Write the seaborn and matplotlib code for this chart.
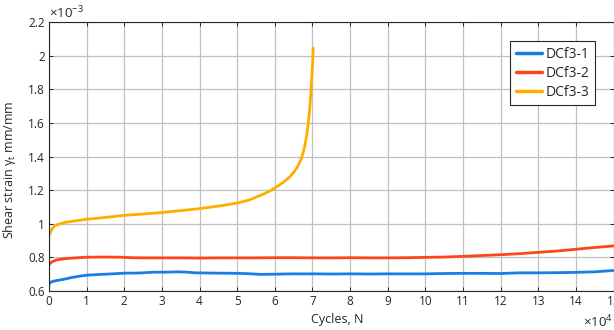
import matplotlib
matplotlib.use("Agg")
import numpy as np
import pandas as pd
import matplotlib.pyplot as plt
import seaborn as sns
from matplotlib.ticker import FuncFormatter

# ---- data: cycles N and shear strain (mm/mm) for each specimen ----
cycles_1 = [0, 300, 1000, 2000, 4000, 6000, 8000, 10000, 13000, 16000, 20000,
            24000, 28000, 31000, 34000, 36000, 39000, 42000, 46000, 50000,
            53000, 56000, 60000, 65000, 70000, 75000, 80000, 85000, 90000,
            95000, 100000, 105000, 110000, 115000, 120000, 125000, 130000,
            135000, 140000, 145000, 150000]
strain_1 = [0.640, 0.650, 0.657, 0.662, 0.670, 0.680, 0.688, 0.694, 0.698,
            0.701, 0.706, 0.707, 0.712, 0.712, 0.714, 0.713, 0.708, 0.707,
            0.706, 0.705, 0.703, 0.699, 0.700, 0.702, 0.702, 0.701, 0.702,
            0.701, 0.702, 0.702, 0.702, 0.704, 0.705, 0.705, 0.704, 0.708,
            0.708, 0.709, 0.711, 0.714, 0.722]

cycles_2 = [0, 300, 1000, 2000, 4000, 7000, 10000, 15000, 19000, 22000, 26000,
            30000, 35000, 40000, 45000, 50000, 55000, 60000, 65000, 70000,
            75000, 80000, 85000, 90000, 95000, 100000, 105000, 110000, 115000,
            120000, 125000, 130000, 135000, 140000, 145000, 150000]
strain_2 = [0.755, 0.765, 0.776, 0.785, 0.792, 0.797, 0.801, 0.802, 0.801,
            0.798, 0.797, 0.797, 0.797, 0.796, 0.797, 0.797, 0.797, 0.798,
            0.798, 0.797, 0.797, 0.798, 0.797, 0.797, 0.798, 0.800, 0.802,
            0.806, 0.811, 0.816, 0.822, 0.830, 0.838, 0.848, 0.859, 0.868]

cycles_3 = [0, 500, 1000, 1600, 3000, 4700, 8000, 10000, 13000, 16000, 20000,
            25000, 30000, 35000, 40000, 45000, 50000, 53000, 55000, 57000,
            58500, 60000, 61000, 62000, 63000, 64000, 65000, 66000, 67000,
            67600, 68000, 68500, 69000, 69400, 69700, 70000, 70200]
strain_3 = [0.930, 0.955, 0.975, 0.990, 1.000, 1.010, 1.020, 1.027, 1.033,
            1.040, 1.050, 1.058, 1.067, 1.078, 1.090, 1.105, 1.123, 1.140,
            1.158, 1.177, 1.193, 1.212, 1.227, 1.243, 1.260, 1.280, 1.305,
            1.338, 1.385, 1.430, 1.468, 1.530, 1.620, 1.720, 1.830, 1.940,
            2.045]

specimens = ["DCf3-1", "DCf3-2", "DCf3-3"]
colors = ["#1a7de6", "#ff4418", "#ffae00"]

y_ticks = [0.6, 0.8, 1.0, 1.2, 1.4, 1.6, 1.8, 2.0, 2.2]   # ×10^-3
x_ticks = list(range(0, 16))                               # ×10^4

frames = []
for name, xs, ys in zip(specimens, [cycles_1, cycles_2, cycles_3],
                        [strain_1, strain_2, strain_3]):
    frames.append(pd.DataFrame({"cycles": xs,
                                "strain": np.array(ys) * 1e-3,
                                "specimen": name}))
df = pd.concat(frames, ignore_index=True)

# ---- styling ----
sns.set_theme(style="whitegrid")
plt.rcParams["font.family"] = ["Open Sans", "DejaVu Sans"]
plt.rcParams["mathtext.fontset"] = "custom"
plt.rcParams["mathtext.rm"] = "Open Sans"
plt.rcParams["mathtext.it"] = "Open Sans:italic"

W, H = 614, 330
fig = plt.figure(figsize=(W / 100, H / 100), dpi=100)
ax = fig.add_axes([49 / W, 39 / H, 564.6 / W, 269 / H])

sns.lineplot(data=df, x="cycles", y="strain", hue="specimen",
             palette=colors, hue_order=specimens, linewidth=2.0,
             estimator=None, ax=ax)

ax.set_xlim(0, 15e4)
ax.set_ylim(0.6e-3, 2.2e-3)
ax.set_xticks([t * 1e4 for t in x_ticks])
ax.set_yticks([t * 1e-3 for t in y_ticks])
ax.xaxis.set_major_formatter(FuncFormatter(lambda v, p: f"{round(v / 1e4, 3):g}"))
ax.yaxis.set_major_formatter(FuncFormatter(lambda v, p: f"{round(v * 1e3, 3):g}"))

ax.grid(True, color="#c0c0c0", linewidth=0.9)
for s in ax.spines.values():
    s.set_color("#262626")
    s.set_linewidth(0.8)
ax.tick_params(axis="both", which="major", direction="in", length=3,
               width=0.7, color="#262626", labelsize=8.5, labelcolor="#262626",
               bottom=True, left=True, top=True, right=True, pad=3)

ax.set_xlabel("Cycles, N", fontsize=9, color="#262626")
ax.set_ylabel(r"Shear strain γ$_\mathregular{t}$ mm/mm", fontsize=9,
              color="#262626")
ax.xaxis.set_label_coords(0.51, -0.083)
ax.yaxis.set_label_coords(-0.055, 0.45)

# exponent labels for the axes
fig.text(49 / W, 1 - 18 / H, r"$\times\mathregular{10^{-3}}$", fontsize=9.5,
         color="#262626", ha="left", va="baseline")
fig.text(583 / W, 1 - 327 / H, r"$\times\mathregular{10^{4}}$", fontsize=9.5,
         color="#262626", ha="left", va="baseline")

leg = ax.legend(loc="upper left", bbox_to_anchor=(510 / W, 1 - 41 / H),
                bbox_transform=fig.transFigure, borderaxespad=0,
                fontsize=10, frameon=True, fancybox=False,
                handlelength=1.9, handletextpad=0.25, labelspacing=0.3,
                borderpad=0.4)
leg.get_frame().set_edgecolor("#262626")
leg.get_frame().set_linewidth(0.8)
leg.get_frame().set_alpha(1)
for line in leg.get_lines():
    line.set_linewidth(2.5)

fig.savefig("out.png", dpi=100)
